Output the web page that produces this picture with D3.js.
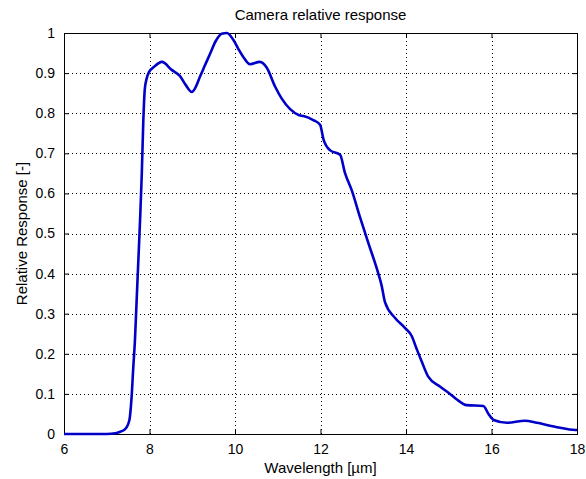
<!DOCTYPE html>
<html><head><meta charset="utf-8">
<script src="https://cdn.jsdelivr.net/npm/d3@7"></script>
<style>body{margin:0;background:#fff}svg{display:block}text{font-family:"Liberation Sans",Arial,sans-serif;fill:#000}</style>
</head><body><svg id="c" width="586" height="479"></svg>
<script>
const wavelength = [6.0,7.0,7.2,7.3,7.43,7.53,7.58,7.62,7.66,7.70,7.74,7.78,7.82,7.855,7.89,7.93,7.99,8.1,8.29,8.52,8.71,8.85,8.99,9.08,9.18,9.30,9.42,9.55,9.69,9.81,9.96,10.08,10.19,10.35,10.58,10.74,10.94,11.09,11.29,11.5,11.6,11.83,11.99,12.07,12.22,12.46,12.57,12.73,12.92,13.12,13.35,13.43,13.51,13.74,13.98,14.13,14.25,14.37,14.52,14.8,15.03,15.19,15.42,15.81,15.93,16.05,16.36,16.78,17.06,17.53,17.96,18.0];
const response = [0,0,0.002,0.005,0.012,0.035,0.09,0.165,0.235,0.335,0.435,0.535,0.65,0.78,0.86,0.885,0.903,0.915,0.928,0.908,0.893,0.87,0.853,0.865,0.891,0.92,0.949,0.98,0.998,1.0,0.983,0.96,0.941,0.922,0.928,0.914,0.866,0.837,0.81,0.795,0.793,0.783,0.771,0.735,0.708,0.696,0.652,0.608,0.542,0.476,0.401,0.37,0.328,0.29,0.264,0.245,0.212,0.18,0.143,0.118,0.100,0.086,0.072,0.070,0.05,0.035,0.028,0.033,0.028,0.017,0.01,0.01];
const xTicks = [6,8,10,12,14,16,18];
const yTicks = [0,0.1,0.2,0.3,0.4,0.5,0.6,0.7,0.8,0.9,1];
const yTickLabels = ["0","0.1","0.2","0.3","0.4","0.5","0.6","0.7","0.8","0.9","1"];
const titleText = "Camera relative response";
const xLabel = "Wavelength [\u00b5m]";
const yLabel = "Relative Response [-]";

const L=64,R=577,T=33,B=434;
const svg=d3.select("#c");
const x=d3.scaleLinear().domain([6,18]).range([L,R]);
const y=d3.scaleLinear().domain([0,1]).range([B,T]);

// grid
const g=svg.append("g");
g.selectAll(".gx").data(xTicks.slice(1,-1)).enter().append("line")
 .attr("x1",d=>Math.round(x(d))+0.5).attr("x2",d=>Math.round(x(d))+0.5).attr("y1",T).attr("y2",B)
 .attr("stroke","#000").attr("stroke-width",1).attr("stroke-dasharray","1,3");
g.selectAll(".gy").data(yTicks.slice(1,-1)).enter().append("line")
 .attr("y1",d=>Math.round(y(d))+0.5).attr("y2",d=>Math.round(y(d))+0.5).attr("x1",L).attr("x2",R)
 .attr("stroke","#000").attr("stroke-width",1).attr("stroke-dasharray","1,3");

// axes
const xa=d3.axisBottom(x).tickValues(xTicks).tickSizeInner(-5).tickSizeOuter(0).tickPadding(10).tickFormat(d3.format("d"));
const xg=svg.append("g").attr("transform",`translate(0,${B})`).call(xa);
const xt=svg.append("g").attr("transform",`translate(0,${T})`).call(d3.axisTop(x).tickValues(xTicks).tickSizeInner(-5).tickSizeOuter(0).tickFormat(""));
const ya=d3.axisLeft(y).tickValues(yTicks).tickSizeInner(-5).tickSizeOuter(0).tickPadding(9).tickFormat((d,i)=>yTickLabels[i]);
const yg=svg.append("g").attr("transform",`translate(${L},0)`).call(ya);
const yr=svg.append("g").attr("transform",`translate(${R},0)`).call(d3.axisRight(y).tickValues(yTicks).tickSizeInner(-5).tickSizeOuter(0).tickFormat(""));
[xg,xt,yg,yr].forEach(a=>{a.select(".domain").remove();a.selectAll("line").attr("stroke","#000");a.selectAll("text").attr("font-size",14).attr("font-family",'"Liberation Sans",Arial,sans-serif').attr("fill","#000");});
svg.append("rect").attr("x",L+0.5).attr("y",T+0.5).attr("width",R-L).attr("height",B-T).attr("fill","none").attr("stroke","#000");

// line
const line=d3.line().x((d,i)=>x(wavelength[i])).y(d=>y(d)).curve(d3.curveMonotoneX);
svg.append("path").attr("d",line(response)).attr("fill","none").attr("stroke","#0000c8").attr("stroke-width",2.6).attr("stroke-linejoin","round");

// labels
svg.append("text").attr("x",(L+R)/2).attr("y",20).attr("text-anchor","middle").attr("font-size",15).text(titleText);
svg.append("text").attr("x",(L+R)/2).attr("y",473).attr("text-anchor","middle").attr("font-size",15).text(xLabel);
svg.append("text").attr("transform",`translate(27,${(T+B)/2}) rotate(-90)`).attr("text-anchor","middle").attr("font-size",15).text(yLabel);
</script></body></html>
